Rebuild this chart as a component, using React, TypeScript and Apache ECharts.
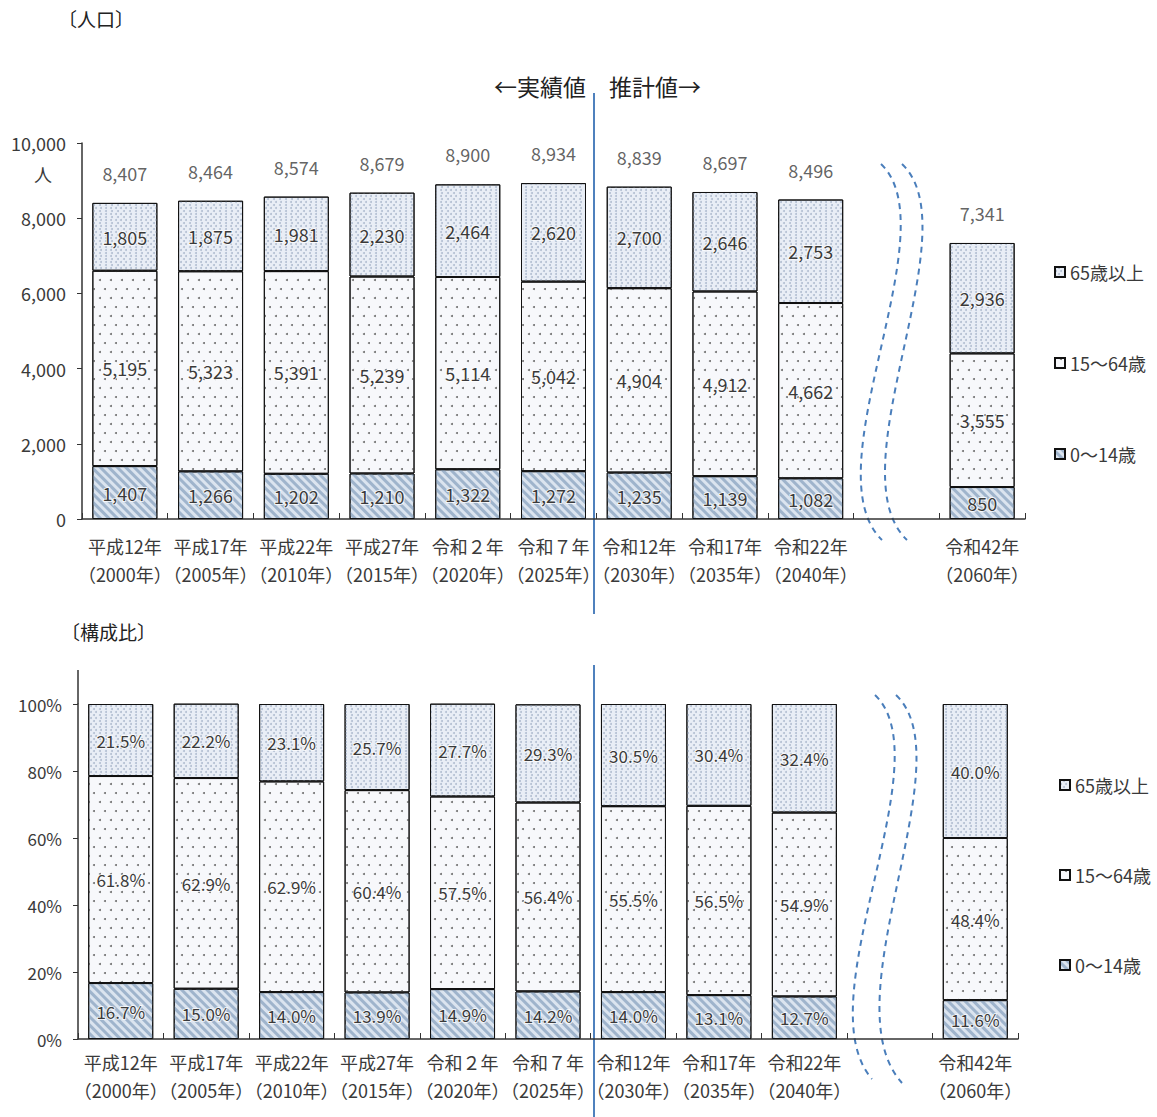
import React, { useEffect, useRef } from "react";
import * as echarts from "echarts";

const categories = [
  "平成12年\n（2000年）",
  "平成17年\n（2005年）",
  "平成22年\n（2010年）",
  "平成27年\n（2015年）",
  "令和２年\n（2020年）",
  "令和７年\n（2025年）",
  "令和12年\n（2030年）",
  "令和17年\n（2035年）",
  "令和22年\n（2040年）",
  "",
  "令和42年\n（2060年）",
];

const seriesNames = ["0～14歳", "15～64歳", "65歳以上"];

const popYoung = [1407, 1266, 1202, 1210, 1322, 1272, 1235, 1139, 1082, "-", 850];
const popWork = [5195, 5323, 5391, 5239, 5114, 5042, 4904, 4912, 4662, "-", 3555];
const popOld = [1805, 1875, 1981, 2230, 2464, 2620, 2700, 2646, 2753, "-", 2936];
const popTotal = [8407, 8464, 8574, 8679, 8900, 8934, 8839, 8697, 8496, "-", 7341];

const pctYoung = [16.7, 15.0, 14.0, 13.9, 14.9, 14.2, 14.0, 13.1, 12.7, "-", 11.6];
const pctWork = [61.8, 62.9, 62.9, 60.4, 57.5, 56.4, 55.5, 56.5, 54.9, "-", 48.4];
const pctOld = [21.5, 22.2, 23.1, 25.7, 27.7, 29.3, 30.5, 30.4, 32.4, "-", 40.0];

const popTicks = [0, 2000, 4000, 6000, 8000, 10000];
const pctTicks = [0, 20, 40, 60, 80, 100];

const FONT = "'Noto Sans CJK JP', 'Noto Sans', sans-serif";
const TXT = "#3a3a3a";

const styles: any = {
  "0～14歳": {
    color: "#dbe4ef",
    decal: {
      symbol: "rect",
      color: "#9fb4cc",
      dashArrayX: [1, 0],
      dashArrayY: [2.5, 2.5],
      rotation: Math.PI / 4,
    },
  },
  "15～64歳": {
    color: "#f7f8fb",
    decal: {
      symbol: "circle",
      color: "#707070",
      dashArrayX: [
        [1.6, 8.4],
        [0, 5, 1.6, 3.4],
      ],
      dashArrayY: [1.6, 7],
    },
  },
  "65歳以上": {
    color: "#e9eef6",
    decal: {
      symbol: "circle",
      color: "#b3bfd2",
      dashArrayX: [
        [1.5, 3],
        [0, 2.25, 1.5, 0.75],
      ],
      dashArrayY: [1.5, 1],
    },
  },
};

function fmtNum(v: any) {
  if (v === "-" || v === undefined || v === null || v === "") return "";
  return Number(v).toLocaleString("en-US");
}
function fmtPct(v: any) {
  if (v === "-" || v === undefined || v === null || v === "") return "";
  return Number(v).toFixed(1) + "%";
}

function barSeries(name: string, data: any[], idx: number, stack: string, pct: boolean) {
  return {
    type: "bar",
    name,
    data,
    stack,
    xAxisIndex: idx,
    yAxisIndex: idx,
    barWidth: 65,
    itemStyle: {
      color: styles[name].color,
      decal: styles[name].decal,
      borderColor: "#111",
      borderWidth: 1,
    },
    label: {
      show: true,
      position: "inside",
      color: TXT,
      fontFamily: FONT,
      fontSize: pct ? 17 : 18,
      textBorderColor: "rgba(255,255,255,0.75)",
      textBorderWidth: 2,
      formatter: (p: any) => (pct ? fmtPct(p.value) : fmtNum(p.value)),
    },
    emphasis: { disabled: true },
  };
}

function lineG(x1: number, y1: number, x2: number, y2: number, color: string, w: number) {
  return {
    type: "line",
    shape: { x1, y1, x2, y2 },
    style: { stroke: color, lineWidth: w },
    silent: true,
  };
}

function curve(x1: number, y1: number, c1x: number, c1y: number, c2x: number, c2y: number, x2: number, y2: number) {
  return {
    type: "bezierCurve",
    shape: { x1, y1, cpx1: c1x, cpy1: c1y, cpx2: c2x, cpy2: c2y, x2, y2 },
    style: { stroke: "#4a7ebb", lineWidth: 2, lineDash: [6, 5], fill: null },
    silent: true,
  };
}

function textG(text: string, x: number, y: number, size: number, align: string, color = "#222") {
  return {
    type: "text",
    x,
    y,
    style: {
      text,
      fontSize: size,
      fontFamily: FONT,
      fill: color,
      align,
      verticalAlign: "middle",
    },
    silent: true,
  };
}

export default function App() {
  const ref = useRef<HTMLDivElement>(null);
  useEffect(() => {
    if (!ref.current) return;
    const chart = echarts.init(ref.current, null, { renderer: "svg" });

    const xAxisCommon = (gridIndex: number, margin: number) => ({
      type: "category",
      gridIndex,
      data: categories,
      axisLine: { lineStyle: { color: "#333", width: 1.5 } },
      axisTick: { show: true, inside: true, length: 6, lineStyle: { color: "#333" } },
      axisLabel: {
        interval: 0,
        color: TXT,
        fontFamily: FONT,
        fontSize: 18,
        lineHeight: 28,
        margin,
      },
    });

    const legendCommon = {
      data: ["65歳以上", "15～64歳", "0～14歳"],
      orient: "vertical",
      icon: "rect",
      itemWidth: 10,
      itemHeight: 10,
      selectedMode: false,
      textStyle: { color: TXT, fontFamily: FONT, fontSize: 18, lineHeight: 20 },
    };

    const option: any = {
      animation: false,
      backgroundColor: "#fff",
      grid: [
        { left: 82, top: 143, width: 943, height: 376 },
        { left: 78, top: 704, width: 940, height: 335 },
      ],
      legend: [
        { ...legendCommon, left: 1049, top: 257, itemGap: 71 },
        { ...legendCommon, left: 1054, top: 770, itemGap: 70 },
      ],
      xAxis: [xAxisCommon(0, 13), xAxisCommon(1, 9)],
      yAxis: [
        {
          type: "value",
          gridIndex: 0,
          min: popTicks[0],
          max: popTicks[popTicks.length - 1],
          interval: popTicks[1] - popTicks[0],
          splitLine: { show: false },
          axisLine: { show: true, lineStyle: { color: "#333", width: 1.5 } },
          axisTick: { show: true, length: 5, lineStyle: { color: "#333" } },
          axisLabel: {
            color: TXT,
            fontFamily: FONT,
            fontSize: 18,
            margin: 16,
            formatter: (v: number) => v.toLocaleString("en-US"),
          },
        },
        {
          type: "value",
          gridIndex: 1,
          min: pctTicks[0],
          max: pctTicks[pctTicks.length - 1],
          interval: pctTicks[1] - pctTicks[0],
          splitLine: { show: false },
          axisLine: { show: true, lineStyle: { color: "#333", width: 1.5 } },
          axisTick: { show: true, length: 5, lineStyle: { color: "#333" } },
          axisLabel: {
            color: TXT,
            fontFamily: FONT,
            fontSize: 17,
            margin: 16,
            formatter: (v: number) => v + "%",
          },
        },
      ],
      series: [
        barSeries(seriesNames[0], popYoung, 0, "pop", false),
        barSeries(seriesNames[1], popWork, 0, "pop", false),
        barSeries(seriesNames[2], popOld, 0, "pop", false),
        {
          type: "scatter",
          name: "total",
          data: popTotal,
          xAxisIndex: 0,
          yAxisIndex: 0,
          symbolSize: 0,
          silent: true,
          label: {
            show: true,
            position: "top",
            distance: 21,
            color: TXT,
            fontFamily: FONT,
            fontSize: 18,
            formatter: (p: any) => fmtNum(p.value),
          },
        },
        barSeries(seriesNames[0], pctYoung, 1, "pct", true),
        barSeries(seriesNames[1], pctWork, 1, "pct", true),
        barSeries(seriesNames[2], pctOld, 1, "pct", true),
      ],
      graphic: [
        textG("〔人口〕", 58, 18, 19, "left"),
        textG("〔構成比〕", 61, 631, 19, "left"),
        textG("人", 43, 174, 18, "center", TXT),
        textG("←実績値", 586, 86, 23, "right"),
        textG("推計値→", 609, 86, 23, "left"),
        lineG(594, 93, 594, 614, "#4f81bd", 2),
        lineG(594, 665, 594, 1117, "#4f81bd", 2),
        lineG(78, 670, 78, 704, "#333", 1.5),
        curve(881, 164, 950, 230, 810, 470, 882, 540),
        curve(902, 164, 972, 230, 834, 470, 907, 540),
        curve(875, 695, 944, 761, 804, 1001, 872, 1079),
        curve(896, 695, 966, 761, 828, 1001, 902, 1083),
      ],
    };

    chart.setOption(option);
    return () => chart.dispose();
  }, []);

  return (
    <div
      ref={ref}
      style={{ position: "absolute", left: 0, top: 0, width: 1157, height: 1117, background: "#fff" }}
    />
  );
}
